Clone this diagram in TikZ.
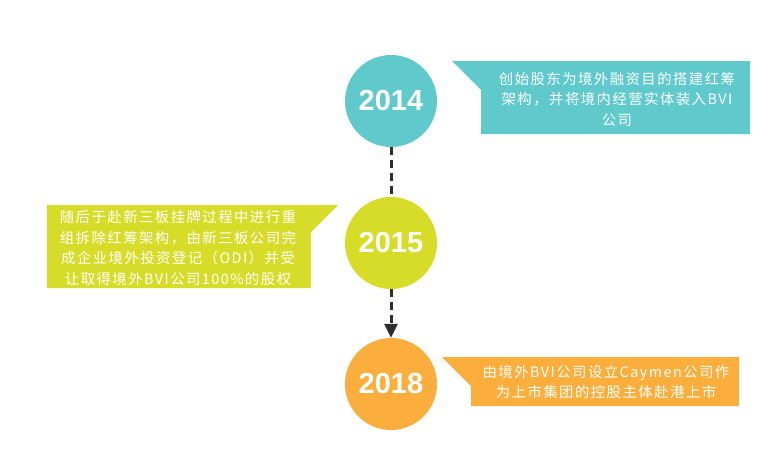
\documentclass[tikz,border=0pt]{standalone}
\usepackage{fontspec}
\setmainfont{Liberation Sans}
\newfontfamily\cjk[LetterSpace=10]{Noto Sans CJK SC}
\usetikzlibrary{arrows.meta}
\definecolor{tealc}{RGB}{95,201,204}
\definecolor{limec}{RGB}{214,220,40}
\definecolor{orangec}{RGB}{251,174,59}
\definecolor{linec}{RGB}{45,45,45}
\begin{document}
\begin{tikzpicture}[x=1pt,y=-1pt,
    year/.style={circle,fill=#1,minimum size=92pt,inner sep=0pt,text=white,font=\bfseries\fontsize{29}{29}\selectfont},
    note/.style={text=white,align=center,font=\cjk\fontsize{14.4}{20.5}\selectfont},
    link/.style={linec,line width=3pt,dash pattern=on 8pt off 5pt}]
    \useasboundingbox (0,0) rectangle (782,461);
    % years
    \node[year=tealc] (y14) at (391,101) {2014};
    \node[year=limec] (y15) at (391,243) {2015};
    \node[year=orangec] (y18) at (391,384) {2018};
    \draw[link] (y14) to (y15);
    \draw[link,-{Triangle[width=13pt,length=14pt]}] (y15) to (y18);
    % callouts
    \fill[tealc] (452,61) -- (750,61) -- (750,134) -- (481,134) -- (481,90) -- cycle;
    \fill[limec] (338,205) -- (47,205) -- (47,288) -- (311,288) -- (311,232) -- cycle;
    \fill[orangec] (442,357) -- (739,357) -- (739,406) -- (471,406) -- (471,386) -- cycle;
    \node[note] (n14) at (617,99) {创始股东为境外融资目的搭建红筹\\架构，并将境内经营实体装入BVI\\公司};
    \node[note] (n15) at (178,248) {随后于赴新三板挂牌过程中进行重\\组拆除红筹架构，由新三板公司完\\成企业境外投资登记（ODI）并受\\让取得境外BVI公司100\%的股权};
    \node[note] (n18) at (606,382) {由境外BVI公司设立Caymen公司作\\为上市集团的控股主体赴港上市};
\end{tikzpicture}
\end{document}
